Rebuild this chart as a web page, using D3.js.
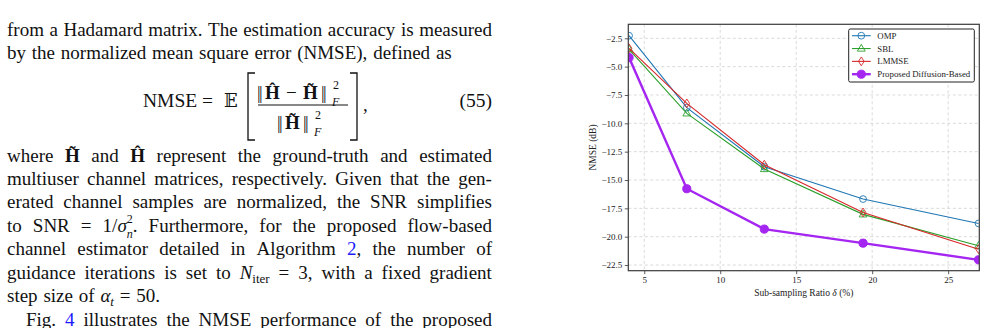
<!DOCTYPE html>
<html>
<head>
<meta charset="utf-8">
<script src="https://cdn.jsdelivr.net/npm/d3@7"></script>
<style>
  body { margin: 0; background: #fff; }
  #page { position: relative; width: 986px; height: 328px; overflow: hidden;
          font-family: "Liberation Serif", "Times New Roman", serif; color: #111; }
  .ln { position: absolute; left: 7px; width: 485px; font-size: 19px; line-height: 23.5px;
        display: flex; white-space: nowrap; align-items: baseline; }
  .just { justify-content: space-between; }
  .left > .w { margin-right: 5.8px; }
  .b { font-weight: bold; }
  .i { font-style: italic; }
  .lk { color: #1a1aff; }
  .sb { font-size: 13px; position: relative; top: 4px; line-height: 0; }
  .sp { font-size: 12px; position: relative; top: -9px; line-height: 0; }
  #chart { position: absolute; left: 0; top: 0; }
</style>
</head>
<body>
<div id="page"><svg id="chart" width="986" height="328"></svg></div>
<script>
// ---- data ----
var xVals = [4, 7.8, 12.9, 19.4, 27];
var ompVals = [-2.27, -8.62, -13.83, -16.68, -18.83];
var sblVals = [-3.47, -9.12, -14.03, -18.03, -20.8];
var lmmseVals = [-3.38, -8.24, -13.65, -17.86, -21.1];
var propVals = [-4.2, -15.77, -19.33, -20.57, -22.04];
var seriesNames = ['OMP', 'SBL', 'LMMSE', 'Proposed Diffusion-Based'];
var xTicks = [5, 10, 15, 20, 25];
var yTicks = [-2.5, -5, -7.5, -10, -12.5, -15, -17.5, -20, -22.5];

// ---- body text lines (words as html), justified or left ----
var textLines = [
  {top: 17.8, just: true, words: ['from','a','Hadamard','matrix.','The','estimation','accuracy','is','measured']},
  {top: 41.3, just: false, words: ['by','the','normalized','mean','square','error','(NMSE),','defined','as']},
  {top: 143.5, just: true, words: ['where','<span class="b">H&#771;</span>','and','<span class="b">&#292;</span>','represent','the','ground-truth','and','estimated']},
  {top: 166.8, just: true, words: ['multiuser','channel','matrices,','respectively.','Given','that','the','gen-']},
  {top: 190.3, just: true, words: ['erated','channel','samples','are','normalized,','the','SNR','simplifies']},
  {top: 213.8, just: true, words: ['to','SNR','=','1/<span class="i">σ</span><span class="sp">2</span><span class="sb i" style="font-size:12px;margin-left:-6px;top:6px">n</span>.','Furthermore,','for','the','proposed','flow-based']},
  {top: 237.3, just: true, words: ['channel','estimator','detailed','in','Algorithm','<span class="lk">2</span>,','the','number','of']},
  {top: 260.8, just: true, words: ['guidance','iterations','is','set','to','<span class="i">N</span><span class="sb">iter</span>','=','3,','with','a','fixed','gradient']},
  {top: 284.3, just: false, words: ['step','size','of','<span class="i">α</span><span class="sb i">t</span>','=','50.']},
  {top: 307.8, just: true, indent: 19, words: ['Fig.','<span class="lk">4</span>','illustrates','the','NMSE','performance','of','the','proposed']}
];

var page = d3.select('#page');
textLines.forEach(function(l) {
  var d = page.insert('div', '#chart')
      .attr('class', 'ln ' + (l.just ? 'just' : 'left'))
      .style('top', l.top + 'px');
  if (l.indent) d.style('left', (7 + l.indent) + 'px').style('width', (485 - l.indent) + 'px');
  d.selectAll('span.w').data(l.words).enter()
      .append('span').attr('class', 'w').html(function(w) { return w; });
});

var svg = d3.select('#chart');
var serif = '"Liberation Serif", "Times New Roman", serif';

// ---- equation (55) ----
var eq = svg.append('g').attr('font-family', serif).attr('fill', '#111');
function put(txt, px, py, size, opts) {
  var t = eq.append('text').attr('x', px).attr('y', py).attr('font-size', size).text(txt);
  if (opts) Object.keys(opts).forEach(function(k) { t.attr(k, opts[k]); });
  return t;
}
put('NMSE', 143, 107, 19.5);
put('=', 202, 107, 19.5);
put('𝔼', 224, 107, 18, {'font-family': '"DejaVu Serif", serif'});
eq.append('path').attr('d', 'M255,73 H248 V140 H255').attr('fill', 'none').attr('stroke', '#111').attr('stroke-width', 1.3);
eq.append('path').attr('d', 'M350,73 H357 V140 H350').attr('fill', 'none').attr('stroke', '#111').attr('stroke-width', 1.3);
eq.append('line').attr('x1', 258).attr('x2', 348).attr('y1', 105).attr('y2', 105).attr('stroke', '#111').attr('stroke-width', 1);
// numerator
put('||', 257, 99, 18, {'letter-spacing': -1.5});
put('\u0124', 265, 99, 19, {'font-weight': 'bold'});
put('−', 286, 99, 19);
put('H\u0303', 303, 99, 19, {'font-weight': 'bold'});
put('||', 321, 99, 18, {'letter-spacing': -1.5});
put('2', 333, 89, 12);
put('F', 332, 106, 12, {'font-style': 'italic'});
// denominator
put('||', 277, 129, 18, {'letter-spacing': -1.5});
put('H\u0303', 285, 129, 19, {'font-weight': 'bold'});
put('||', 303, 129, 18, {'letter-spacing': -1.5});
put('2', 315, 119, 12);
put('F', 314, 136, 12, {'font-style': 'italic'});
put(',', 363, 111, 19);
put('(55)', 492, 107, 19.5, {'text-anchor': 'end'});

// ---- chart ----
var plot = {left: 628.3, right: 979.3, top: 24.3, bottom: 270.7};
var x = d3.scaleLinear().domain([3.95, 27.05]).range([plot.left, plot.right]);
var y = d3.scaleLinear().domain([-23.0, -1.265]).range([plot.bottom, plot.top]);

var g = svg.append('g').attr('font-family', serif);

svg.append('defs').append('clipPath').attr('id', 'clip')
  .append('rect').attr('x', plot.left).attr('y', plot.top)
    .attr('width', plot.right - plot.left).attr('height', plot.bottom - plot.top);

// grid
g.selectAll('.gx').data(xTicks).enter().append('line')
    .attr('x1', function(d) { return x(d); }).attr('x2', function(d) { return x(d); })
    .attr('y1', plot.top).attr('y2', plot.bottom)
    .attr('stroke', '#d0d0d0').attr('stroke-width', 0.8).attr('stroke-dasharray', '3,2.5');
g.selectAll('.gy').data(yTicks).enter().append('line')
    .attr('y1', function(d) { return y(d); }).attr('y2', function(d) { return y(d); })
    .attr('x1', plot.left).attr('x2', plot.right)
    .attr('stroke', '#d0d0d0').attr('stroke-width', 0.8).attr('stroke-dasharray', '3,2.5');

var fmtY = function(d) { return d3.format('.1f')(d).replace('-', '−'); };
var xAxis = g.append('g').attr('transform', 'translate(0,' + plot.bottom + ')')
    .call(d3.axisBottom(x).tickValues(xTicks).tickSize(3.5).tickPadding(2.5));
var yAxis = g.append('g').attr('transform', 'translate(' + plot.left + ',0)')
    .call(d3.axisLeft(y).tickValues(yTicks).tickSize(3.5).tickPadding(2.5).tickFormat(fmtY));
[xAxis, yAxis].forEach(function(a) {
  a.select('.domain').remove();
  a.selectAll('.tick line').attr('stroke', '#333').attr('stroke-width', 0.8);
  a.selectAll('.tick text').attr('font-family', serif).attr('font-size', 9).attr('fill', '#222');
});

// series
var series = [
  {name: seriesNames[0], vals: ompVals, color: '#1f77b4', marker: 'circle', lw: 1.1},
  {name: seriesNames[1], vals: sblVals, color: '#2ca02c', marker: 'triangle', lw: 1.1},
  {name: seriesNames[2], vals: lmmseVals, color: '#d62728', marker: 'diamond', lw: 1.1},
  {name: seriesNames[3], vals: propVals, color: '#a526f0', marker: 'dot', lw: 2.4}
];

function markerPath(m) {
  if (m === 'circle') return d3.symbol(d3.symbolCircle, 36)();
  if (m === 'triangle') return 'M0,-4.2L3.9,2.6L-3.9,2.6Z';
  if (m === 'diamond') return 'M0,-4.4L2.8,0L0,4.4L-2.8,0Z';
  return d3.symbol(d3.symbolCircle, 52)();
}

var line = d3.line().x(function(d) { return x(d[0]); }).y(function(d) { return y(d[1]); });
var clipped = g.append('g').attr('clip-path', 'url(#clip)');

series.forEach(function(s) {
  var pts = xVals.map(function(v, i) { return [v, s.vals[i]]; });
  clipped.append('path').datum(pts).attr('d', line)
      .attr('fill', 'none').attr('stroke', s.color).attr('stroke-width', s.lw);
  clipped.selectAll(null).data(pts).enter().append('path')
      .attr('transform', function(d) { return 'translate(' + x(d[0]) + ',' + y(d[1]) + ')'; })
      .attr('d', markerPath(s.marker))
      .attr('fill', s.marker === 'dot' ? s.color : 'none')
      .attr('stroke', s.color).attr('stroke-width', s.marker === 'dot' ? 1 : 0.9);
});

// frame
g.append('rect').attr('x', plot.left).attr('y', plot.top)
    .attr('width', plot.right - plot.left).attr('height', plot.bottom - plot.top)
    .attr('fill', 'none').attr('stroke', '#3a3a3a').attr('stroke-width', 1.2);

// axis labels
g.append('text').attr('x', (plot.left + plot.right) / 2).attr('y', 296)
    .attr('text-anchor', 'middle').attr('font-size', 9.5).attr('fill', '#222')
    .html('Sub-sampling Ratio <tspan font-style="italic">δ</tspan> (%)');
g.append('text').attr('transform', 'translate(595.5,' + (plot.top + plot.bottom) / 2 + ') rotate(-90)')
    .attr('text-anchor', 'middle').attr('font-size', 9.5).attr('fill', '#222')
    .text('NMSE (dB)');

// legend
var leg = g.append('g');
leg.append('rect').attr('x', 848.7).attr('y', 29).attr('width', 125.6).attr('height', 53)
    .attr('rx', 1.5).attr('fill', '#fff').attr('stroke', '#222').attr('stroke-width', 1);
var legY = d3.scalePoint().domain(seriesNames).range([35.7, 74.2]);
series.forEach(function(s) {
  var ly = legY(s.name);
  leg.append('line').attr('x1', 852).attr('x2', 870.7).attr('y1', ly).attr('y2', ly)
      .attr('stroke', s.color).attr('stroke-width', s.lw);
  leg.append('path').attr('transform', 'translate(861.3,' + ly + ')')
      .attr('d', markerPath(s.marker))
      .attr('fill', s.marker === 'dot' ? s.color : 'none')
      .attr('stroke', s.color).attr('stroke-width', s.marker === 'dot' ? 1 : 0.9);
  leg.append('text').attr('x', 877.3).attr('y', ly + 3.1)
      .attr('font-size', 8.8).attr('fill', '#222').text(s.name);
});
</script>
</body>
</html>
